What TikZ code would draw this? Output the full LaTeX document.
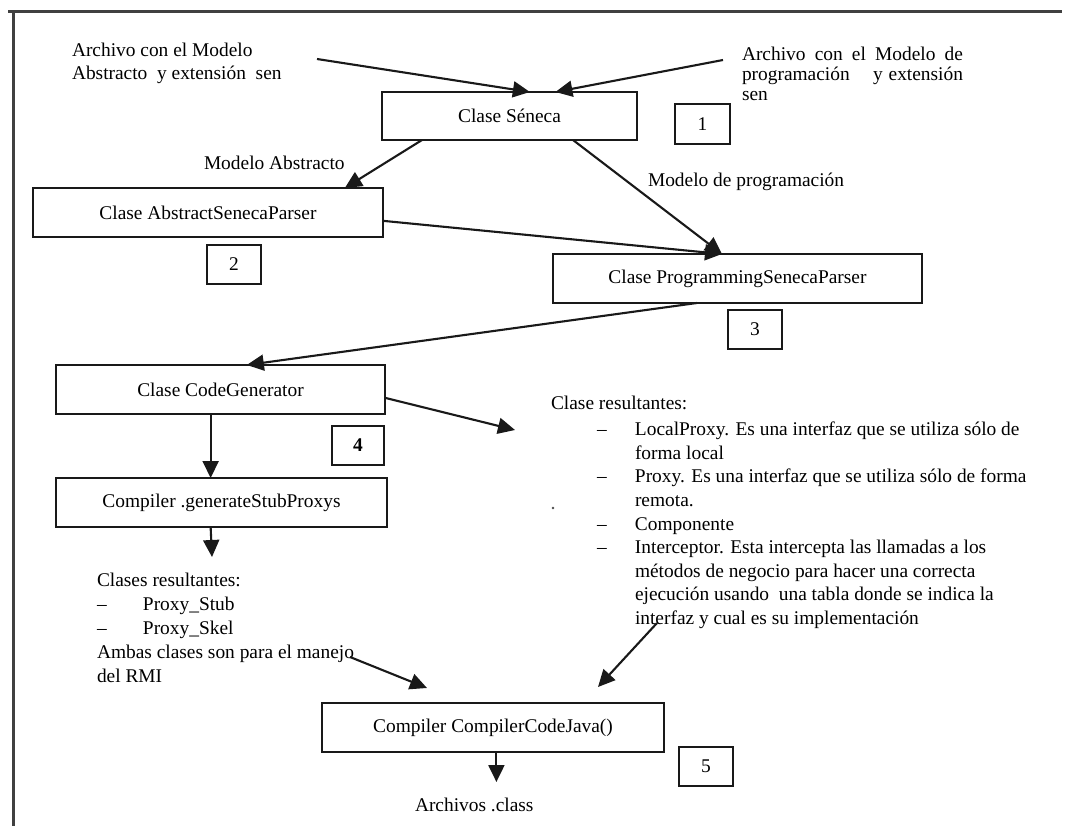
\documentclass[tikz,border=0pt]{standalone}
\usepackage{fontspec}
\setmainfont{Liberation Serif}
\usetikzlibrary{arrows.meta,calc}
\begin{document}
\begin{tikzpicture}[x=1pt,y=-1pt,
  every node/.style={inner sep=0pt,outer sep=0pt,font=\fontsize{19.4}{22.5}\selectfont},
  classbox/.style={draw=black!90,line width=2.2pt,rectangle,align=center},
  numbox/.style={draw=black!90,line width=2.2pt,rectangle,align=center},
  lbl/.style={anchor=base west},
  blk/.style={anchor=north west,align=left},
  conn/.style={draw=black!90,line width=2.1pt,-{Triangle[length=17pt,width=16pt]}},
  frameline/.style={draw=black!75,line width=3pt}
]
\useasboundingbox (0,0) rectangle (1065,826);
\fill[white] (0,0) rectangle (1065,826);
% frame
\coordinate (fa) at (8,12);
\coordinate (fb) at (1062,12);
\coordinate (fc) at (13,12);
\coordinate (fd) at (13,826);
\draw[frameline] (fa) -- (fb);
\draw[frameline] (fc) -- (fd);

% boxes
\node[classbox,minimum width=255pt,minimum height=48pt] (sen) at (509.5,116) {Clase Séneca};
\node[numbox,minimum width=55pt,minimum height=40pt] (n1) at (702.5,124) {1};
\node[classbox,minimum width=350pt,minimum height=49pt] (asp) at (208,212.5) {Clase AbstractSenecaParser};
\node[numbox,minimum width=54pt,minimum height=39pt] (n2) at (234,264.5) {2};
\node[classbox,minimum width=369pt,minimum height=49pt] (psp) at (737.5,278.5) {Clase ProgrammingSenecaParser};
\node[numbox,minimum width=54pt,minimum height=39pt] (n3) at (755,329.5) {3};
\node[classbox,minimum width=329pt,minimum height=49pt] (cg) at (220.5,389.5) {Clase CodeGenerator};
\node[numbox,minimum width=52pt,minimum height=39pt] (n4) at (358,445.5) {\textbf{4}};
\node[classbox,minimum width=331pt,minimum height=49pt] (gsp) at (221.5,502.5) {Compiler .generateStubProxys};
\node[classbox,minimum width=342pt,minimum height=49pt] (ccj) at (493,727.5) {Compiler CompilerCodeJava()};
\node[numbox,minimum width=54pt,minimum height=39pt] (n5) at (706,766.5) {5};

% texts
\node[blk,font=\fontsize{19.4}{23}\selectfont] (tl) at (72,43) {Archivo con el Modelo\\Abstracto\ \ y extensión\ \ sen};
\node[blk,font=\fontsize{19.4}{20}\selectfont] (tr) at (742,47) {\makebox[221pt][s]{Archivo con el Modelo de}\\\makebox[221pt][s]{programación\ \ \ \ y extensión}\\sen};
\node[lbl] (ma) at (204,169.4) {Modelo Abstracto};
\node[lbl] (mp) at (648,186.4) {Modelo de programación};
\node[lbl] (cr) at (551,409.4) {Clase resultantes:};
\node[blk,font=\fontsize{19.4}{23.6}\selectfont] (lst) at (597,422) {%
\makebox[38pt][l]{--}LocalProxy. Es una interfaz que se utiliza sólo de\\
\hspace*{38pt}forma local\\
\makebox[38pt][l]{--}Proxy. Es una interfaz que se utiliza sólo de forma\\
\hspace*{38pt}remota.\\
\makebox[38pt][l]{--}Componente\\
\makebox[38pt][l]{--}Interceptor. Esta intercepta las llamadas a los\\
\hspace*{38pt}métodos de negocio para hacer una correcta\\
\hspace*{38pt}ejecución usando\ \ una tabla donde se indica la\\
\hspace*{38pt}interfaz y cual es su implementación};
\node[blk,font=\fontsize{19.4}{24}\selectfont] (cls) at (97,573) {%
Clases resultantes:\\
\makebox[46pt][l]{--}Proxy\_Stub\\
\makebox[46pt][l]{--}Proxy\_Skel\\
Ambas clases son para el manejo\\
del RMI};
\node[lbl] (ac) at (415,811.4) {Archivos .class};
\fill[black!70] (553,508) circle (1.3pt);

% connector end points
\coordinate (c1) at (317,59);
\coordinate (c2) at (723,60);
\coordinate (c7) at (515,430);
\coordinate (c9) at (212,557);
\coordinate (c10s) at (350,657);
\coordinate (c10e) at (427,688);
\coordinate (c11s) at (657,623);
\coordinate (c11e) at (598,687);

% connectors
\draw[conn] (c1) -- ($(sen.north west)!0.58!(sen.north east)$);
\draw[conn] (c2) -- ($(sen.north west)!0.68!(sen.north east)$);
\draw[conn] ($(sen.south west)!0.157!(sen.south east)$) -- ($(asp.north west)!0.891!(asp.north east)$);
\draw[conn] ($(sen.south west)!0.749!(sen.south east)$) -- ($(psp.north west)!0.458!(psp.north east)$);
\draw[conn] ($(asp.north east)!0.67!(asp.south east)$) -- ($(psp.north west)!0.458!(psp.north east)$);
\draw[conn] ($(psp.south west)!0.39!(psp.south east)$) -- ($(cg.north west)!0.58!(cg.north east)$);
\draw[conn] ($(cg.north east)!0.67!(cg.south east)$) -- (c7);
\coordinate (x8) at ($(cg.south west)!0.47!(cg.south east)$);
\draw[conn] (x8) -- (x8 |- gsp.north);
\draw[conn] (x8 |- gsp.south) -- (c9);
\draw[conn] (c10s) -- (c10e);
\draw[conn] (c11s) -- (c11e);
\draw[conn] ($(ccj.south west)!0.51!(ccj.south east)$) -- ++(0,30);
\end{tikzpicture}
\end{document}
